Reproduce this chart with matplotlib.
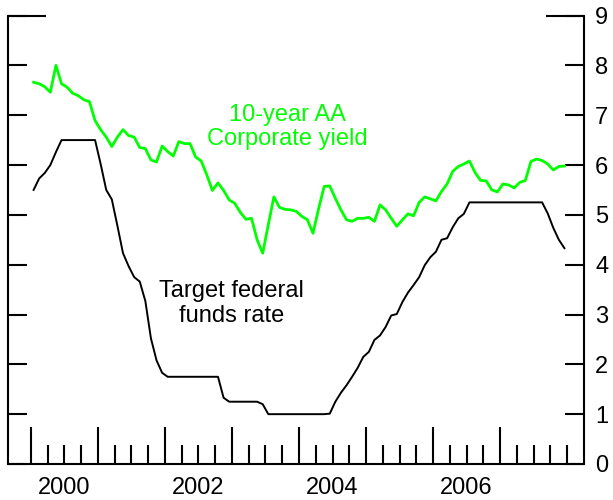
import matplotlib.pyplot as plt
import numpy as np

plt.rcParams['font.family'] = ['Liberation Sans', 'DejaVu Sans']

# monthly values, Jan 2000 .. Dec 2007
fed_funds = [5.50, 5.73, 5.84, 6.00, 6.26, 6.50, 6.50, 6.50, 6.50, 6.50, 6.50, 6.50,
             6.02, 5.50, 5.31, 4.78, 4.23, 3.97, 3.75, 3.66, 3.27, 2.52, 2.08, 1.83,
             1.75, 1.75, 1.75, 1.75, 1.75, 1.75, 1.75, 1.75, 1.75, 1.75, 1.33, 1.25,
             1.25, 1.25, 1.25, 1.25, 1.25, 1.20, 1.00, 1.00, 1.00, 1.00, 1.00, 1.00,
             1.00, 1.00, 1.00, 1.00, 1.00, 1.01, 1.25, 1.43, 1.58, 1.75, 1.93, 2.15,
             2.25, 2.49, 2.58, 2.75, 2.98, 3.01, 3.25, 3.44, 3.59, 3.75, 3.99, 4.15,
             4.26, 4.50, 4.53, 4.75, 4.93, 5.02, 5.25, 5.25, 5.25, 5.25, 5.25, 5.25,
             5.25, 5.25, 5.25, 5.25, 5.25, 5.25, 5.25, 5.25, 5.03, 4.74, 4.50, 4.33]

aa_yield = [7.66, 7.63, 7.57, 7.46, 8.00, 7.63, 7.56, 7.44, 7.39, 7.31, 7.27, 6.89,
            6.71, 6.56, 6.37, 6.56, 6.71, 6.59, 6.56, 6.35, 6.33, 6.10, 6.06, 6.38,
            6.27, 6.18, 6.47, 6.43, 6.43, 6.16, 6.08, 5.80, 5.49, 5.64, 5.49, 5.30,
            5.23, 5.05, 4.91, 4.93, 4.50, 4.23, 4.80, 5.36, 5.15, 5.11, 5.10, 5.07,
            4.97, 4.90, 4.63, 5.12, 5.57, 5.58, 5.33, 5.10, 4.90, 4.87, 4.93, 4.93,
            4.95, 4.87, 5.20, 5.10, 4.93, 4.77, 4.90, 5.02, 4.98, 5.25, 5.36, 5.32,
            5.28, 5.47, 5.62, 5.87, 5.97, 6.02, 6.08, 5.85, 5.69, 5.68, 5.50, 5.46,
            5.62, 5.60, 5.54, 5.65, 5.69, 6.07, 6.12, 6.09, 6.02, 5.90, 5.97, 5.98]

months = 2000 + (np.arange(len(aa_yield)) + 0.5) / 12
years = list(range(2000, 2008))
year_labels = ['2000', '2002', '2004', '2006']

fig = plt.figure(figsize=(6.13, 5.0), dpi=100)
ax = fig.add_axes([8 / 613, 36 / 500, 576 / 613, 448.5 / 500])

ax.plot(months, aa_yield, color='#00ff00', lw=2.0)
ax.plot(months, fed_funds, color='black', lw=1.4)

ax.set_xlim(1999.66, 2008.25)
ax.set_ylim(0, 9)

for s in ['left', 'right', 'bottom']:
    ax.spines[s].set_linewidth(1.5)
ax.spines['top'].set_visible(False)

# y axis: inward ticks both sides, labels on the right
ax.set_yticks(range(10))
ax.tick_params(axis='y', which='major', direction='in', length=13.5, width=1.5,
               left=True, right=True, labelleft=False, labelright=True,
               labelsize=17, pad=8)
# longer tick at the top on both sides
ax.plot([0, 38 / 576], [1, 1], transform=ax.transAxes, color='black', lw=1.5,
        clip_on=False, solid_capstyle='butt')
ax.plot([1 - 38 / 576, 1], [1, 1], transform=ax.transAxes, color='black', lw=1.5,
        clip_on=False, solid_capstyle='butt')

# x axis: year ticks long, quarter ticks short, labels mid-year
quarters = [2000 + q / 4 for q in range(1, 33) if q % 4 != 0 or q == 32]
ax.set_xticks(years)
ax.set_xticks(quarters, minor=True)
ax.tick_params(axis='x', which='major', direction='in', length=26.5, width=1.5,
               labelbottom=False)
ax.tick_params(axis='x', which='minor', direction='in', length=13.5, width=1.5)

sec = ax.secondary_xaxis('bottom')
sec.set_xticks([int(y) + 0.5 for y in year_labels], labels=year_labels)
sec.tick_params(length=0, labelsize=17, pad=9)
sec.spines['bottom'].set_visible(False)

ax.text(2003.83, 6.76, '10-year AA\nCorporate yield', color='#00ff00', fontsize=17,
        ha='center', va='center', linespacing=1.15)
ax.text(2002.99, 3.22, 'Target federal\nfunds rate', color='black', fontsize=17,
        ha='center', va='center', linespacing=1.15)

fig.savefig('out.png', dpi=100)
